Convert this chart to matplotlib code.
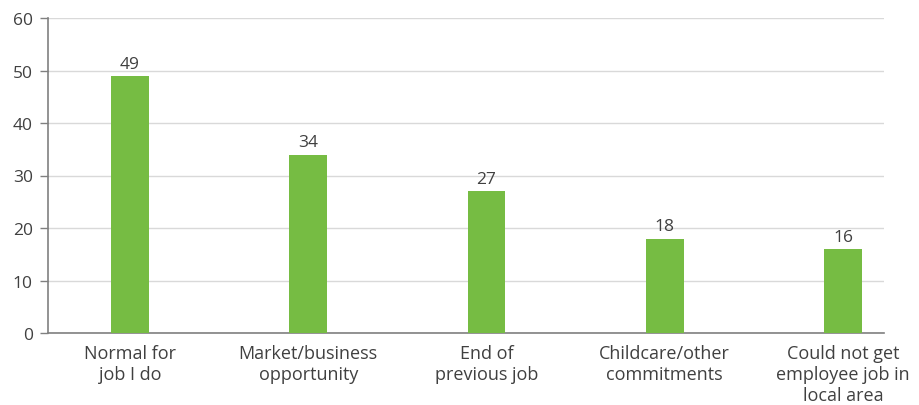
import numpy as np
import matplotlib.pyplot as plt

plt.rcParams['font.family'] = ['Open Sans', 'DejaVu Sans']

# reasons for becoming self-employed (%)
reasons = ['Normal for\njob I do', 'Market/business\nopportunity', 'End of\nprevious job',
           'Childcare/other\ncommitments', 'Could not get\nemployee job in\nlocal area']
shares = [49, 34, 27, 18, 16]

text_col = '#404040'
bar_col = '#76bc43'

fig = plt.figure(figsize=(9.19, 4.06), dpi=100)
ax = fig.add_axes([48 / 919, 72 / 406, 836 / 919, 315 / 406])

x = np.arange(len(reasons))
bars = ax.bar(x, shares, width=0.213, color=bar_col, zorder=3)

for xi, v in zip(x, shares):
    ax.annotate(str(v), (xi, v), xytext=(0, 3), textcoords='offset points',
                ha='center', va='bottom', fontsize=12.5, color=text_col)

ax.set_xlim(-0.46, 4.23)
ax.set_ylim(0, 60)
ax.set_yticks(range(0, 61, 10))
ax.set_xticks(x)
ax.set_xticklabels(reasons, fontsize=13, color=text_col, linespacing=1.2)

ax.grid(axis='y', color='#d9d9d9', linewidth=1, zorder=0)
for s in ['top', 'right']:
    ax.spines[s].set_visible(False)
ax.spines['left'].set_color('#808080')
ax.spines['bottom'].set_color('#808080')
ax.spines['left'].set_linewidth(1.2)
ax.spines['bottom'].set_linewidth(1.2)

ax.tick_params(axis='y', length=6, width=1, color='#808080', pad=5,
               labelsize=12.5, labelcolor=text_col)
ax.tick_params(axis='x', length=0, pad=8)

fig.savefig('out.png', dpi=100)
